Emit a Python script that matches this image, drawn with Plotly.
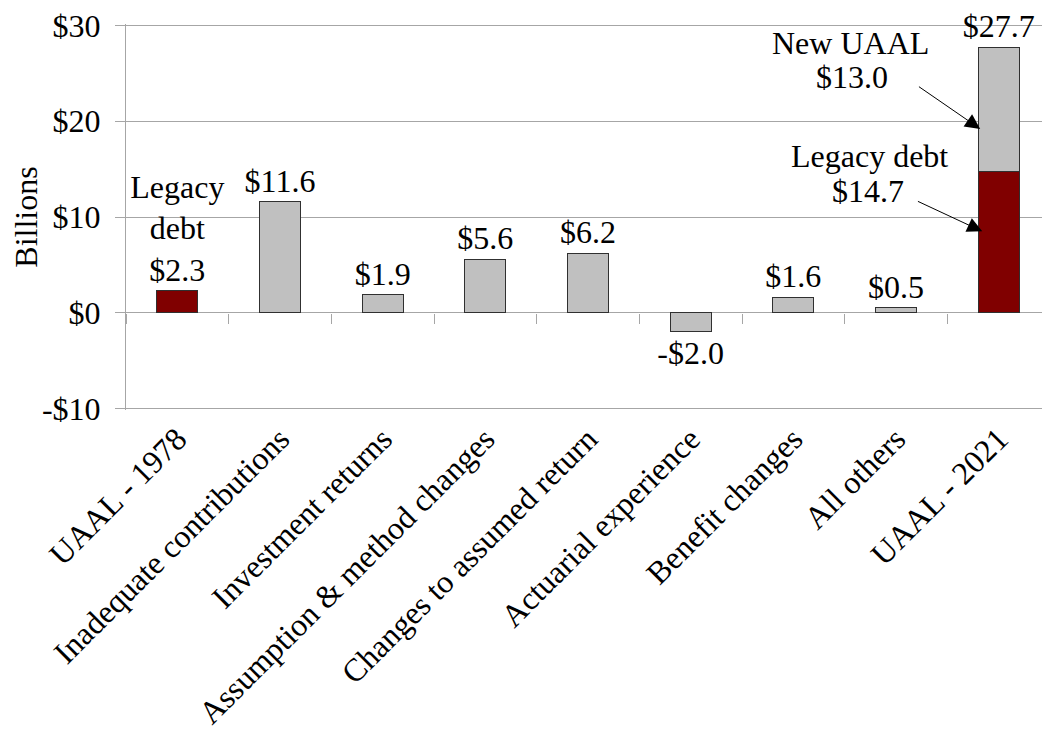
import plotly.graph_objects as go

# Categories and values (billions of dollars)
categories = ["UAAL - 1978", "Inadequate contributions", "Investment returns",
              "Assumption & method changes", "Changes to assumed return",
              "Actuarial experience", "Benefit changes", "All others", "UAAL - 2021"]

legacy_cats = ["UAAL - 1978", "UAAL - 2021"]
legacy_vals = [2.3, 14.7]
legacy_text = ["Legacy<br>debt<br>$2.3", ""]

other_cats = categories[1:]
other_vals = [11.6, 1.9, 5.6, 6.2, -2.0, 1.6, 0.5, 13.0]
other_text = ["$11.6", "$1.9", "$5.6", "$6.2", "-$2.0", "$1.6", "$0.5", "$27.7"]

y_ticks = [-10, 0, 10, 20, 30]
y_labels = ["-$10", "$0", "$10", "$20", "$30"]

FONT = "Times New Roman, Liberation Serif, serif"
FS = 32
GRID = "#a6a6a6"
EDGE = "#303030"

# small pad so the end gridlines are not clipped
y_range = [-10.15, 30.15]
zero_pos = (0 - y_range[0]) / (y_range[1] - y_range[0])

fig = go.Figure()
fig.add_trace(go.Bar(x=legacy_cats, y=legacy_vals, text=legacy_text,
                     textposition="outside", cliponaxis=False, constraintext="none",
                     marker=dict(color="#800000", line=dict(color=EDGE, width=1)),
                     width=0.4, textfont=dict(family=FONT, size=FS, color="black")))
fig.add_trace(go.Bar(x=other_cats, y=other_vals, text=other_text,
                     textposition="outside", cliponaxis=False, constraintext="none",
                     marker=dict(color="#c0c0c0", line=dict(color=EDGE, width=1)),
                     width=0.4, textfont=dict(family=FONT, size=FS, color="black")))

# callouts for the 2021 bar
callouts = [("New UAAL", 6.56, 28.2), ("$13.0", 6.57, 24.6),
            ("Legacy debt", 6.74, 16.4), ("$14.7", 6.73, 12.7)]
for txt, cx, cy in callouts:
    fig.add_annotation(x=cx, y=cy, text=txt, showarrow=False,
                       font=dict(family=FONT, size=FS, color="black"))

arrows = [(7.82, 19.2, 7.17, 24.0), (7.84, 8.5, 7.16, 11.9)]
for hx, hy, tx, ty in arrows:
    fig.add_annotation(x=hx, y=hy, ax=tx, ay=ty, axref="x", ayref="y",
                       text=" ", showarrow=True, arrowhead=2, arrowsize=3, arrowwidth=1,
                       arrowcolor="black", standoff=0, startstandoff=0)

fig.update_layout(
    width=1042, height=726,
    margin=dict(l=117, r=0, t=10, b=324),
    barmode="stack", showlegend=False,
    plot_bgcolor="white", paper_bgcolor="white",
    font=dict(family=FONT, size=FS, color="black"),
    xaxis=dict(categoryorder="array", categoryarray=categories, tickangle=-45,
               anchor="free", position=zero_pos,
               tickson="boundaries", ticks="outside", ticklen=10, tickcolor=GRID,
               ticklabelstandoff=100,
               showgrid=False, showline=False, zeroline=False,
               tickfont=dict(family=FONT, size=FS)),
    yaxis=dict(range=y_range, tickvals=y_ticks, ticktext=y_labels,
               showgrid=True, gridcolor=GRID, gridwidth=1,
               zeroline=True, zerolinecolor=GRID, zerolinewidth=1,
               showline=True, linecolor=GRID, linewidth=1,
               ticks="outside", ticklen=10, tickcolor=GRID,
               ticklabelstandoff=8, ticklabeloverflow="allow",
               title=dict(text="Billions", font=dict(family=FONT, size=FS), standoff=12),
               tickfont=dict(family=FONT, size=FS)),
)

fig.write_html("out.html")
